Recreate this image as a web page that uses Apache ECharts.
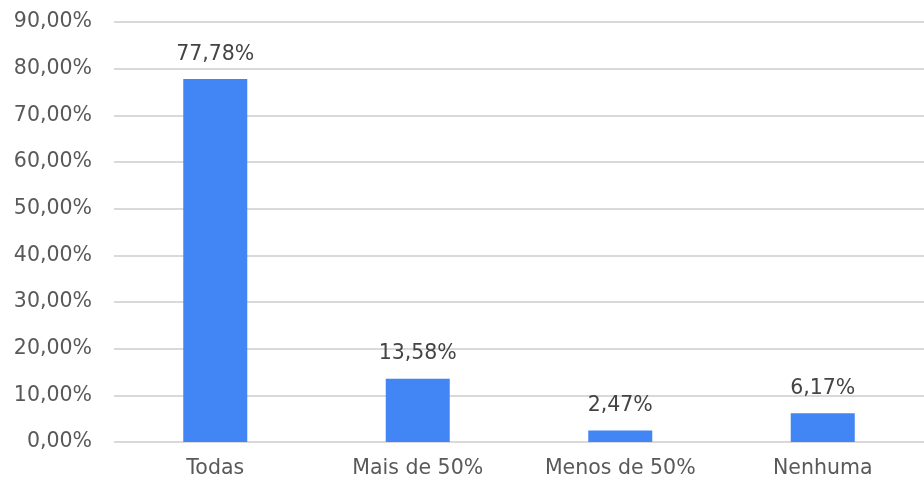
<!DOCTYPE html>
<html><head><meta charset="utf-8">
<script src="https://cdn.jsdelivr.net/npm/echarts@6/dist/echarts.min.js"></script>
<style>html,body{margin:0;padding:0;background:#fff}#c{width:924px;height:482px}</style>
</head><body><div id="c"></div>
<script>
const categories = ['Todas', 'Mais de 50%', 'Menos de 50%', 'Nenhuma'];
const values = [77.78, 13.58, 2.47, 6.17];
const fmt = v => v.toFixed(2).replace('.', ',') + '%';
const FONT = 'DejaVu Sans';
const chart = echarts.init(document.getElementById('c'));
chart.setOption({
  animation: false,
  textStyle: { fontFamily: FONT },
  grid: { left: 114, right: -3, top: 22, bottom: 40, containLabel: false },
  xAxis: {
    type: 'category', data: categories,
    axisLine: { show: false }, axisTick: { show: false },
    axisLabel: { color: '#595959', fontSize: 20.5, margin: 16, fontFamily: FONT }
  },
  yAxis: {
    type: 'value', min: 0, max: 90, interval: 10,
    axisLine: { show: false }, axisTick: { show: false },
    splitLine: { lineStyle: { color: '#d9d9d9', width: 2 } },
    axisLabel: { color: '#595959', fontSize: 20.5, margin: 22, fontFamily: FONT, formatter: v => fmt(v) }
  },
  series: [{
    type: 'bar', data: values, barWidth: 64,
    itemStyle: { color: '#4285F4' },
    label: { show: true, position: 'top', distance: 14, color: '#444', fontSize: 20.5, fontFamily: FONT, formatter: p => fmt(p.value) }
  }]
});
</script></body></html>
